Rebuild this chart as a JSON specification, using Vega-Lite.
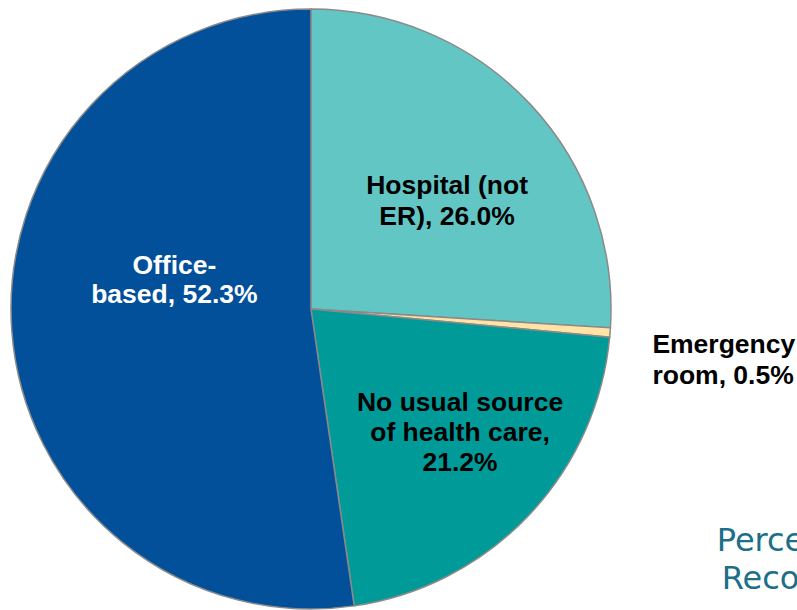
{
  "$schema": "https://vega.github.io/schema/vega-lite/v6.json",
  "padding": 0,
  "spacing": 0,
  "bounds": "flush",
  "background": "white",
  "config": {"view": {"stroke": null}, "text": {"lineBreak": "\n"}},
  "hconcat": [
    {
      "width": 622,
      "height": 618,
      "data": {"values": [
        {"category": "Hospital (not ER)", "value": 26.0, "idx": 1, "label": "Hospital (not\nER), 26.0%"},
        {"category": "Emergency room", "value": 0.5, "idx": 2, "label": "Emergency\nroom, 0.5%"},
        {"category": "No usual source of health care", "value": 21.2, "idx": 3, "label": "No usual source\nof health care,\n21.2%"},
        {"category": "Office-based", "value": 52.3, "idx": 4, "label": "Office-\nbased, 52.3%"}
      ]},
      "encoding": {
        "theta": {"field": "value", "type": "quantitative", "stack": true},
        "order": {"field": "idx", "type": "quantitative"}
      },
      "layer": [
        {
          "mark": {"type": "arc", "outerRadius": 300, "stroke": "#8a8a8a", "strokeWidth": 1.5},
          "encoding": {
            "color": {
              "field": "category", "type": "nominal", "legend": null,
              "scale": {
                "domain": ["Hospital (not ER)", "Emergency room", "No usual source of health care", "Office-based"],
                "range": ["#62c6c5", "#ffe4a6", "#009a99", "#03509a"]
              }
            }
          }
        },
        {
          "mark": {"type": "text", "radius": 173, "dx": 10, "dy": -5, "fontSize": 26.5, "fontWeight": "bold", "font": "Liberation Sans", "lineHeight": 31, "color": "#000000"},
          "encoding": {"text": {"condition": {"test": "datum.idx === 1", "field": "label", "type": "nominal"}, "value": ""}}
        },
        {
          "mark": {"type": "text", "radius": 200, "dx": 142, "dy": 20, "align": "left", "fontSize": 26.5, "fontWeight": "bold", "font": "Liberation Sans", "lineHeight": 31, "color": "#000000"},
          "encoding": {"text": {"condition": {"test": "datum.idx === 2", "field": "label", "type": "nominal"}, "value": ""}}
        },
        {
          "mark": {"type": "text", "radius": 196, "dx": 7, "dy": -41, "fontSize": 26.5, "fontWeight": "bold", "font": "Liberation Sans", "lineHeight": 30, "color": "#000000"},
          "encoding": {"text": {"condition": {"test": "datum.idx === 3", "field": "label", "type": "nominal"}, "value": ""}}
        },
        {
          "mark": {"type": "text", "radius": 139, "dx": 2, "dy": -53, "fontSize": 26.5, "fontWeight": "bold", "font": "Liberation Sans", "lineHeight": 29, "color": "#ffffff"},
          "encoding": {"text": {"condition": {"test": "datum.idx === 4", "field": "label", "type": "nominal"}, "value": ""}}
        }
      ]
    },
    {
      "width": 175,
      "height": 618,
      "data": {"values": [{"caption": "Perce\nReco"}]},
      "mark": {"type": "text", "align": "center", "baseline": "alphabetic", "dx": 51, "dy": 242, "fontSize": 32, "lineHeight": 38, "font": "DejaVu Sans", "color": "#1b6f88"},
      "encoding": {
        "text": {"field": "caption"}
      }
    }
  ]
}
